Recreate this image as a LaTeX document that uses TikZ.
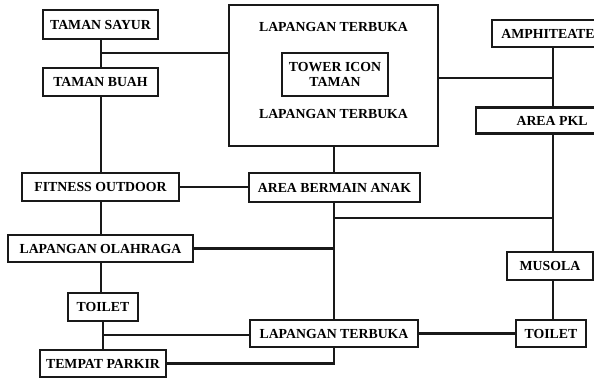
\documentclass[tikz,border=0pt]{standalone}
\usepackage{fontspec}
\setmainfont{Liberation Serif}
\begin{document}
\begin{tikzpicture}[x=1pt,y=-1pt,
  box/.style={draw=black!90, line width=2.6pt, fill=white, inner sep=0pt,
    font=\fontsize{13.8}{15}\selectfont\bfseries, align=center},
  conn/.style={draw=black!90, line width=2.3pt},
  lbl/.style={font=\fontsize{13.8}{15}\selectfont\bfseries, inner sep=0pt}]
\clip (0,0) rectangle (594,378);
\fill[white] (0,0) rectangle (594,378);
\coordinate (vl) at (101,0);
\coordinate (vm) at (334,0);
\coordinate (vr) at (553,0);
% boxes
\node[box, minimum width=115, minimum height=29] (tsayur) at (100.5,24.5) {TAMAN SAYUR};
\node[box, minimum width=115, minimum height=28] (tbuah) at (100.5,82) {TAMAN BUAH};
\node[box, minimum width=209, minimum height=141] (big) at (333.5,75.5) {};
\node[lbl] (lt1) at (333.5,27) {LAPANGAN TERBUKA};
\node[lbl] (lt2) at (333.5,114) {LAPANGAN TERBUKA};
\node[box, minimum width=106, minimum height=43, font=\fontsize{13.8}{14.5}\selectfont\bfseries] (tower) at (335,74.5) {TOWER ICON\\TAMAN};
\node[box, minimum width=112, minimum height=27] (amphi) at (548,33.5) {AMPHITEATE};
\node[box, minimum width=152, minimum height=26] (apkl) at (552,120.5) {AREA PKL};
\node[box, minimum width=171, minimum height=29] (aba) at (334.5,187.5) {AREA BERMAIN ANAK};
\node[box, minimum width=157, minimum height=28] (fo) at (100.5,187) {FITNESS OUTDOOR};
\node[box, minimum width=185, minimum height=27] (lo) at (100.5,248.5) {LAPANGAN OLAHRAGA};
\node[box, minimum width=86, minimum height=28] (musola) at (550,266) {MUSOLA};
\node[box, minimum width=70, minimum height=28] (toiletl) at (103,307) {TOILET};
\node[box, minimum width=168, minimum height=27] (lt) at (334,333.5) {LAPANGAN TERBUKA};
\node[box, minimum width=70, minimum height=27] (toiletr) at (551,333.5) {TOILET};
\node[box, minimum width=126, minimum height=27] (tp) at (103,363.5) {TEMPAT PARKIR};
% junctions
\coordinate (j1) at (101,53);
\coordinate (j2) at (103,335);
\coordinate (j3) at (334,218);
\coordinate (j4) at (438,78);
\draw[conn] (tsayur.south -| vl) -- (tbuah.north -| vl);
\draw[conn] (tbuah.south -| vl) -- (fo.north -| vl);
\draw[conn] (j1) -- (j1 -| big.west);
\draw[conn] (fo.east) -- (fo.east -| aba.west);
\draw[conn] (fo.south -| vl) -- (lo.north -| vl);
\draw[conn] (lo.south -| vl) -- (toiletl.north -| vl);
\draw[conn] (toiletl.south) -- (tp.north);
\draw[conn] (j2) -- (j2 -| lt.west);
\draw[conn] (tp.east) -| (lt.south);
\draw[conn] (big.south -| vm) -- (aba.north -| vm);
\draw[conn] (aba.south -| vm) -- (lt.north -| vm);
\draw[conn] (lo.east) -- (lo.east -| vm);
\draw[conn] (j3) -- (j3 -| vr);
\draw[conn] (j4 -| big.east) -- (j4 -| vr);
\draw[conn] (amphi.south -| vr) -- (apkl.north -| vr);
\draw[conn] (apkl.south -| vr) -- (musola.north -| vr);
\draw[conn] (musola.south -| vr) -- (toiletr.north -| vr);
\draw[conn] (lt.east) -- (toiletr.west);
\end{tikzpicture}
\end{document}
